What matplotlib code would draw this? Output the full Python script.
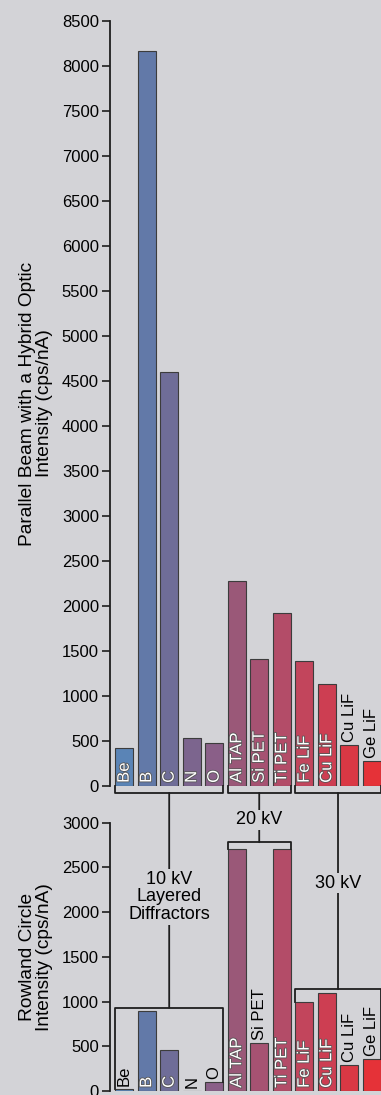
import matplotlib
matplotlib.use('Agg')
import matplotlib.pyplot as plt
import matplotlib.patheffects as pe
from matplotlib.patches import ConnectionPatch

plt.rcParams['font.family'] = ['Liberation Sans', 'DejaVu Sans']

# data
crystals = ['Be', 'B', 'C', 'N', 'O', 'Al TAP', 'Si PET', 'Ti PET',
            'Fe LiF', 'Cu LiF', 'Cu LiF', 'Ge LiF']
parallel_beam = [425, 8170, 4600, 537, 481, 2280, 1411, 1922, 1389, 1130, 452, 278]
rowland = [20, 895, 459, 0, 97, 2703, 533, 2703, 992, 1093, 291, 361]
# label drawn inside bar (white) or above bar (black)
pb_inside = [True, True, True, True, True, True, True, True, True, True, False, False]
rc_inside = [False, True, True, False, False, True, False, True, True, True, False, False]

groups = [(0, 4), (5, 7), (8, 11)]           # first, last bar index
group_text = ['10 kV\nLayered\nDiffractors', '20 kV', '30 kV']
group_stem_x = [2, 6, 9.5]
rc_bracket_y = [932, 2782, 1138]
group_text_y = [2170, 3031, 2323]

colors = ['#5a84b6', '#6279a8', '#6f6d98', '#7c658e', '#8a5f88', '#9a5878',
          '#a65272', '#b34c68', '#c2455c', '#cd3e52', '#da3844', '#e53238']

BG = '#d3d3d7'
LC = '#1e1e1e'
W = 0.8

fig = plt.figure(figsize=(3.81, 10.95), dpi=100, facecolor=BG)
ax1 = fig.add_axes([110 / 381, 1 - 786 / 1095, 271 / 381, 765 / 1095])
ax2 = fig.add_axes([110 / 381, 1 - 1091 / 1095, 271 / 381, 268.3 / 1095])

x = list(range(len(crystals)))
stroke = [pe.withStroke(linewidth=1.2, foreground='#555555')]


def draw_panel(ax, vals, inside, ymax, label, pad_units):
    ax.set_facecolor('none')
    ax.bar(x, vals, width=W, color=colors, edgecolor='#3c3c3c', linewidth=0.8, zorder=2)
    for i, (v, name) in enumerate(zip(vals, crystals)):
        if inside[i]:
            ax.text(i, pad_units, name, rotation=90, ha='center', va='bottom',
                    color='white', fontsize=12, zorder=4, path_effects=stroke)
        else:
            ax.text(i, v + pad_units, name, rotation=90, ha='center', va='bottom',
                    color='black', fontsize=12, zorder=4)
    ax.set_xlim(-0.63, 11.41)
    ax.set_ylim(0, ymax)
    ax.set_yticks(range(0, ymax + 1, 500))
    ax.tick_params(axis='y', length=6, width=1.2, pad=2, labelsize=12, color=LC)
    ax.set_xticks([])
    for s in ['top', 'right', 'bottom']:
        ax.spines[s].set_visible(False)
    ax.spines['left'].set_linewidth(1.3)
    ax.spines['left'].set_color(LC)
    ax.set_ylabel(label, fontsize=13.8, linespacing=1.0)
    ax.yaxis.set_label_coords(-0.272, 0.5)
    ax.yaxis.label.set_va('center')


draw_panel(ax1, parallel_beam, pb_inside, 8500,
           'Parallel Beam with a Hybrid Optic\nIntensity (cps/nA)', 35)
draw_panel(ax2, rowland, rc_inside, 3000,
           'Rowland Circle\nIntensity (cps/nA)', 35)

lw = 1.3
# brackets under top panel
yb = -78
for g0, g1 in groups:
    xl, xr = g0 - W / 2, g1 + W / 2
    ax1.plot([xl, xl, xr, xr], [0, yb, yb, 0], color=LC, lw=lw, clip_on=False, zorder=3)

# brackets in bottom panel
for k, (g0, g1) in enumerate(groups):
    xl, xr = g0 - W / 2, g1 + W / 2
    yy = rc_bracket_y[k]
    ax2.plot([xl, xl, xr, xr], [rowland[g0], yy, yy, rowland[g1]],
             color=LC, lw=lw, clip_on=False, zorder=3)

# stems with voltage labels
for k in range(3):
    sx = group_stem_x[k]
    con = ConnectionPatch(xyA=(sx, yb), coordsA=ax1.transData,
                          xyB=(sx, rc_bracket_y[k]), coordsB=ax2.transData,
                          color=LC, lw=lw, clip_on=False, zorder=3)
    ax2.add_artist(con)
    ax2.text(sx, group_text_y[k], group_text[k], ha='center', va='center',
             fontsize=13, linespacing=1.05, zorder=6, clip_on=False,
             bbox=dict(facecolor=BG, edgecolor='none', pad=1))

fig.savefig('out.png', dpi=100, facecolor=BG)
